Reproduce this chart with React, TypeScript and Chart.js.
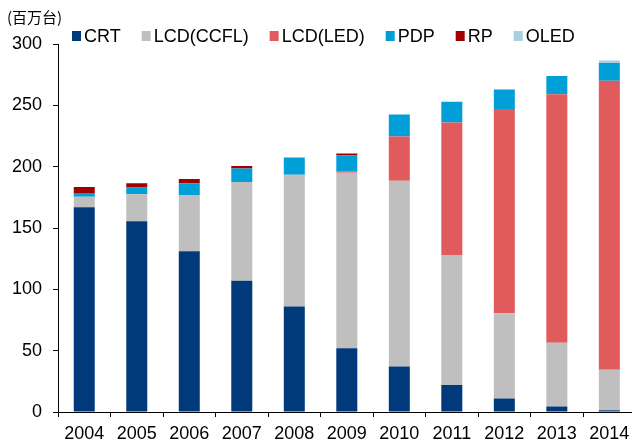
import React, { useEffect, useRef } from "react";
import { Chart, registerables } from "chart.js";

Chart.register(...registerables);

const categories = ["2004", "2005", "2006", "2007", "2008", "2009", "2010", "2011", "2012", "2013", "2014"];
const crt = [167, 155.5, 131, 107, 86, 52, 37, 22, 11, 4.5, 1.5];
const lcdCcfl = [8.5, 22, 46, 80.5, 107.5, 143, 151.5, 106, 69.5, 52, 33];
const lcdLed = [0, 0, 0, 0, 0, 1.2, 36, 108, 166.5, 202.5, 235.5];
const pdp = [3, 5.5, 9.5, 11, 14, 13, 18, 17, 16, 15, 14.5];
const rp = [5, 3.5, 3.5, 2, 0, 1.6, 0, 0, 0, 0, 0];
const oled = [0, 0, 0, 0, 0, 0, 0, 0, 0, 0, 2];
const yTicks = [0, 50, 100, 150, 200, 250, 300];
const unitLabel = "(百万台)";

const seriesNames = ["CRT", "LCD(CCFL)", "LCD(LED)", "PDP", "RP", "OLED"];
const seriesColors = ["#003A7B", "#BFBFBF", "#E15A5C", "#009FD8", "#A00000", "#A8CFE0"];
const seriesData = [crt, lcdCcfl, lcdLed, pdp, rp, oled];

const FONT = "'Liberation Sans', Arial, sans-serif";

const overlayPlugin = {
  id: "overlay",
  afterDraw(chart: any) {
    const ctx = chart.ctx;
    ctx.save();
    ctx.fillStyle = "#000";
    ctx.font = "15px 'Noto Sans CJK SC', sans-serif";
    ctx.textBaseline = "middle";
    ctx.textAlign = "left";
    ctx.fillText(unitLabel, 7, 17);
    ctx.font = "18px " + FONT;
    let x = 72;
    chart.data.datasets.forEach((ds: any) => {
      ctx.fillStyle = ds.backgroundColor;
      ctx.fillRect(x, 31, 9, 10);
      ctx.fillStyle = "#000";
      ctx.fillText(ds.label, x + 12, 37);
      x += 12 + ctx.measureText(ds.label).width + 21;
    });
    ctx.restore();
  },
};

export default function App() {
  const ref = useRef<HTMLCanvasElement>(null);
  useEffect(() => {
    const canvas = ref.current!;
    const chart = new Chart(canvas, {
      type: "bar",
      data: {
        labels: categories,
        datasets: seriesNames.map((n, i) => ({
          label: n,
          data: seriesData[i],
          backgroundColor: seriesColors[i],
          borderWidth: 0,
          barPercentage: 0.4,
          categoryPercentage: 1,
        })),
      },
      options: {
        animation: false,
        responsive: false,
        devicePixelRatio: 1,
        layout: { padding: { left: 0, right: 4.4, top: 44, bottom: 0 } },
        plugins: { legend: { display: false }, title: { display: false }, tooltip: { enabled: false } },
        scales: {
          x: {
            stacked: true,
            grid: { display: true, drawOnChartArea: false, drawTicks: true, tickLength: 5, color: "#000", offset: true },
            border: { display: true, color: "#000", width: 1 },
            ticks: { color: "#000", font: { size: 18, family: FONT }, padding: 6, maxRotation: 0, autoSkip: false },
            afterFit: (s: any) => { s.height = 29; },
          },
          y: {
            stacked: true,
            min: 0,
            max: 300,
            afterBuildTicks: (s: any) => { s.ticks = yTicks.map((v) => ({ value: v })); },
            grid: { display: true, drawOnChartArea: false, drawTicks: true, tickLength: 5, color: "#000" },
            border: { display: true, color: "#000", width: 1 },
            ticks: { color: "#000", font: { size: 18, family: FONT }, padding: 11 },
            afterFit: (s: any) => { s.width = 58; },
          },
        },
      },
      plugins: [overlayPlugin],
    });
    return () => chart.destroy();
  }, []);
  return (
    <div style={{ position: "fixed", left: 0, top: 0, width: 632, height: 441, overflow: "hidden", background: "#fff" }}>
      <canvas ref={ref} width={640} height={441} style={{ display: "block", width: 640, height: 441 }} />
    </div>
  );
}
